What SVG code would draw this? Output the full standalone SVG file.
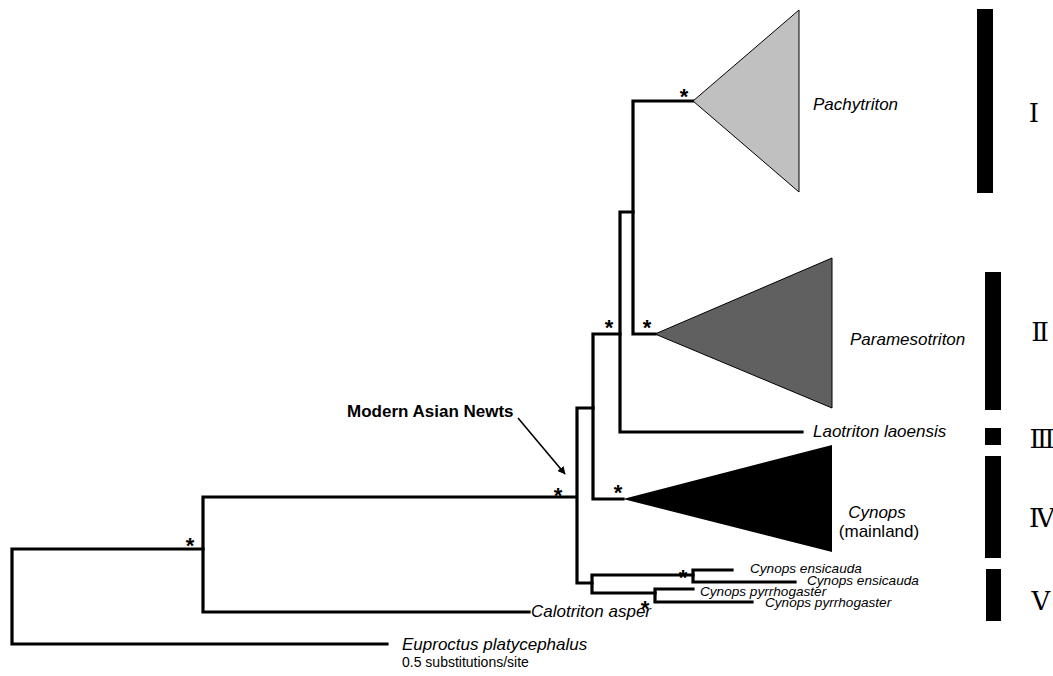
<svg xmlns="http://www.w3.org/2000/svg" width="1053" height="676" viewBox="0 0 1053 676">
<defs>
<style>
.br{fill:none;stroke:#000;stroke-width:3.2;stroke-linejoin:miter;stroke-linecap:square}
.lab{font-family:"Liberation Sans",Arial,sans-serif;font-style:italic;font-size:17px;fill:#000}
.sm{font-family:"Liberation Sans",Arial,sans-serif;font-style:italic;font-size:13.6px;fill:#000}
.ast{font-family:"Liberation Sans",Arial,sans-serif;font-size:22px;font-weight:bold;fill:#000;text-anchor:middle}
.rn{font-family:"Liberation Serif","DejaVu Serif","Noto Sans CJK SC",serif;font-size:26px;fill:#000;text-anchor:middle}
.bar{fill:#000}
</style>
<marker id="ah" viewBox="0 0 10 10" refX="9" refY="5" markerWidth="8" markerHeight="8" markerUnits="userSpaceOnUse" orient="auto">
<path d="M0 0 L10 5 L0 10 z" fill="#000"/>
</marker>
</defs>
<rect width="1053" height="676" fill="#fff"/>
<g id="connectors">
<path class="br" d="M203 549 H12 V644 H387"/>
<path class="br" d="M575 497 H203 V612 H529"/>
<path class="br" d="M593 408 H577 V583 H592"/>
<path class="br" d="M620 334 H593 V499 H623"/>
<path class="br" d="M633 212 H620 V432 H802"/>
<path class="br" d="M693 101 H633 V334 H655"/>
<path class="br" d="M693 575 H592 V593 H655"/>
<path class="br" d="M732 570 H693 V582 H795"/>
<path class="br" d="M693 589 H655 V602 H752"/>
<line x1="518" y1="418" x2="565" y2="474" stroke="#000" stroke-width="1.6" marker-end="url(#ah)"/>
</g>
<g id="pachytriton">
<polygon points="693,101 799,10 799,192" fill="#c0c0c0" stroke="#000" stroke-width="1"/>
<text class="lab" x="813" y="110">Pachytriton</text>
<text class="ast" x="684" y="103.5">*</text>
</g>
<g id="paramesotriton">
<polygon points="655,334 832,258 832,408" fill="#606060" stroke="#000" stroke-width="1"/>
<text class="lab" x="850" y="345">Paramesotriton</text>
<text class="ast" x="647" y="334.5">*</text>
<text class="ast" x="609" y="334.5">*</text>
</g>
<g id="laotriton">
<text class="lab" x="813" y="437">Laotriton laoensis</text>
</g>
<g id="cynops-mainland">
<polygon points="623,499 832,445 832,552" fill="#000"/>
<text class="lab" x="877" y="518" text-anchor="middle">Cynops</text>
<text class="lab" x="879" y="537" text-anchor="middle" style="font-style:normal">(mainland)</text>
<text class="ast" x="618" y="499.5">*</text>
</g>
<g id="modern-asian-newts">
<text x="347" y="417" style="font-family:'Liberation Sans',Arial,sans-serif;font-weight:bold;font-size:17px">Modern Asian Newts</text>
<text class="ast" x="558" y="502.5">*</text>
</g>
<g id="cynops-japan">
<text class="sm" x="750" y="573">Cynops ensicauda</text>
<text class="sm" x="807" y="585">Cynops ensicauda</text>
<text class="sm" x="700" y="596">Cynops pyrrhogaster</text>
<text class="sm" x="765" y="607">Cynops pyrrhogaster</text>
<text class="ast" x="683" y="584.5">*</text>
<text class="ast" x="645" y="615.5">*</text>
</g>
<g id="calotriton">
<text class="lab" x="531" y="617">Calotriton asper</text>
<text class="ast" x="190" y="552.5">*</text>
</g>
<g id="euproctus">
<text class="lab" x="402" y="650">Euproctus platycephalus</text>
<text x="402" y="667" style="font-family:'Liberation Sans',Arial,sans-serif;font-size:14px">0.5 substitutions/site</text>
</g>
<g id="groups">
<rect class="bar" x="977" y="9" width="16" height="184"/>
<rect class="bar" x="985" y="272" width="16" height="138"/>
<rect class="bar" x="985" y="428" width="16" height="17"/>
<rect class="bar" x="985" y="456" width="16" height="102"/>
<rect class="bar" x="986" y="569" width="15" height="52"/>
<text class="rn" x="1034" y="122">Ⅰ</text>
<text class="rn" x="1040" y="341">Ⅱ</text>
<text class="rn" x="1042" y="448">Ⅲ</text>
<text class="rn" x="1042" y="527">Ⅳ</text>
<text class="rn" x="1041" y="610">Ⅴ</text>
</g>
</svg>
